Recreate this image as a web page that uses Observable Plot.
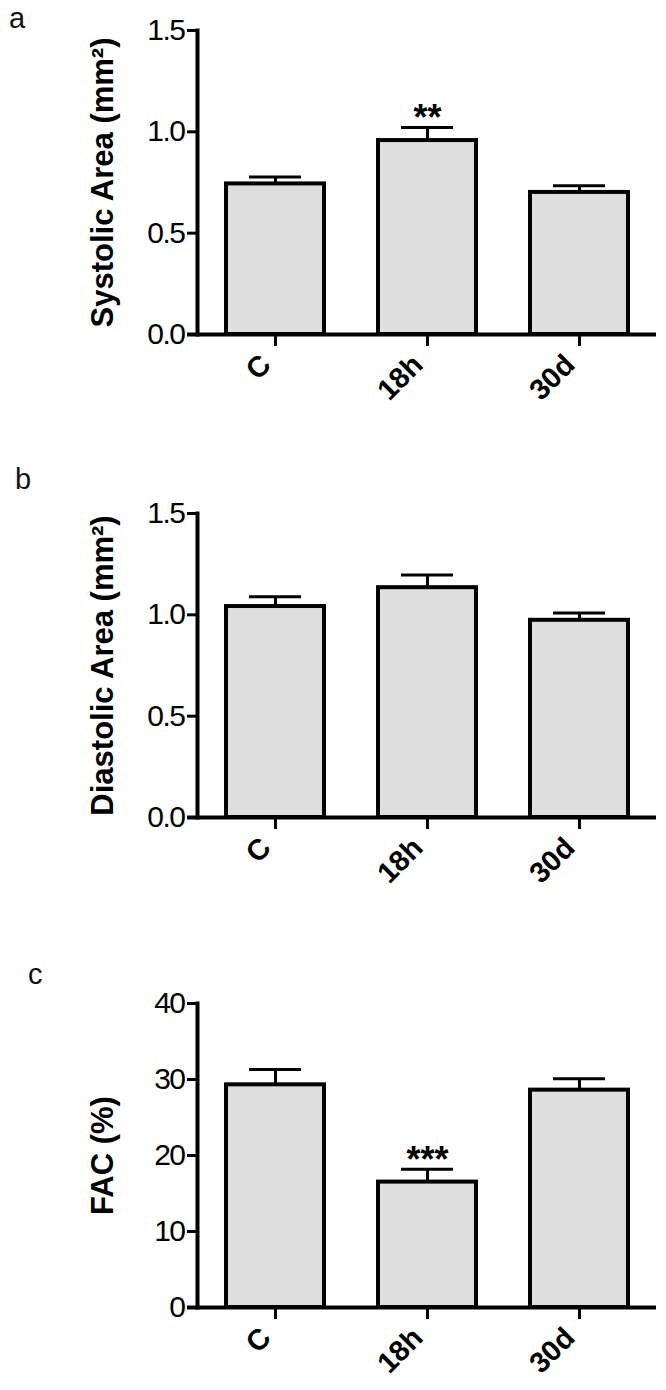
<!DOCTYPE html>
<html>
<head>
<meta charset="utf-8">
<script src="https://cdn.jsdelivr.net/npm/d3@7"></script>
<script src="https://cdn.jsdelivr.net/npm/@observablehq/plot@0.6"></script>
<style>
  html, body { margin: 0; padding: 0; background: white; }
  #wrap { position: relative; width: 666px; height: 1390px; overflow: hidden; font-family: "Liberation Sans", Arial, sans-serif; }
  .panel { position: absolute; left: 0; }
  .letter { position: absolute; font-size: 29px; line-height: 1; color: #111; }
  .ytick text { letter-spacing: -1.5px; }
</style>
</head>
<body>
<div id="wrap"></div>
<script>
// ---- data ----
const categories = ["C", "18h", "30d"];

const systolicMean = [0.743, 0.957, 0.701];
const systolicSem  = [0.034, 0.064, 0.033];
const systolicStars = ["", "**", ""];

const diastolicMean = [1.041, 1.134, 0.973];
const diastolicSem  = [0.048, 0.063, 0.036];
const diastolicStars = ["", "", ""];

const facMean = [29.3, 16.5, 28.6];
const facSem  = [2.0, 1.7, 1.5];
const facStars = ["", "***", ""];

const areaTicks = [0, 0.5, 1.0, 1.5];
const facTicks = [0, 10, 20, 30, 40];

const panels = [
  {letter: "a", title: "Systolic Area (mm²)", mean: systolicMean, sem: systolicSem, stars: systolicStars,
   domain: [0, 1.5], ticks: areaTicks, fmt: d3.format(".1f"), top: 0, letterPos: [9, 3.5]},
  {letter: "b", title: "Diastolic Area (mm²)", mean: diastolicMean, sem: diastolicSem, stars: diastolicStars,
   domain: [0, 1.5], ticks: areaTicks, fmt: d3.format(".1f"), top: 483, letterPos: [15, 465]},
  {letter: "c", title: "FAC (%)", mean: facMean, sem: facSem, stars: facStars,
   domain: [0, 40], ticks: facTicks, fmt: d3.format("d"), top: 973, letterPos: [28, 960]}
];

const wrap = document.getElementById("wrap");
const font = '"Liberation Sans", Arial, sans-serif';

for (const p of panels) {
  const data = categories.map((c, i) => ({cat: c, mean: p.mean[i], sem: p.sem[i], star: p.stars[i]}));
  const top = d => d.mean + d.sem;
  const chart = Plot.plot({
    width: 666,
    height: 430,
    marginLeft: 197,
    marginRight: 10,
    marginTop: 30,
    marginBottom: 96,
    style: {fontFamily: font, background: "white", overflow: "visible", color: "black"},
    x: {domain: categories, paddingInner: 0.357, paddingOuter: 0.18, axis: null},
    y: {domain: p.domain, axis: null},
    marks: [
      Plot.barY(data, {x: "cat", y: "mean", fill: "#dedede", stroke: "black", strokeWidth: 4}),
      Plot.ruleX(data, {x: "cat", y1: "mean", y2: top, stroke: "black", strokeWidth: 3}),
      Plot.tickY(data, {x: "cat", y: top, stroke: "black", strokeWidth: 3, insetLeft: 23, insetRight: 23}),
      Plot.text(data, {x: "cat", y: top, text: "star", dy: -9, fontSize: 36, fontWeight: "bold", fill: "black"}),
      Plot.frame({anchor: "left", stroke: "black", strokeWidth: 4}),
      Plot.ruleY([0], {stroke: "black", strokeWidth: 4, insetLeft: -10}),
      Plot.axisY({ticks: p.ticks, tickFormat: p.fmt, tickSize: 10, tickPadding: 3, fontSize: 30,
                  strokeWidth: 3, label: null, fill: "black", stroke: "black", className: "ytick"}),
      Plot.axisX({tickSize: 12, strokeWidth: 3, tickFormat: () => "", label: null, stroke: "black"}),
      Plot.text(categories, {x: d => d, frameAnchor: "bottom", rotate: -45, textAnchor: "end",
                             dx: -3, dy: 32, fontSize: 29, fontWeight: "bold", fill: "black"}),
      Plot.text([p.title], {frameAnchor: "left", textAnchor: "middle", dx: -94, rotate: -90,
                            fontSize: 31, fontWeight: "bold", fill: "black"})
    ]
  });
  const div = document.createElement("div");
  div.className = "panel";
  div.style.top = p.top + "px";
  div.appendChild(chart);
  wrap.appendChild(div);

  const l = document.createElement("div");
  l.className = "letter";
  l.textContent = p.letter;
  l.style.left = p.letterPos[0] + "px";
  l.style.top = p.letterPos[1] + "px";
  wrap.appendChild(l);
}
</script>
</body>
</html>
